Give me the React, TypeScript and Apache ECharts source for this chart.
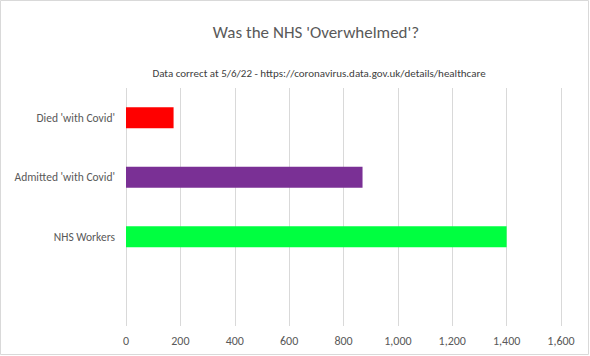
import React, { useEffect, useRef } from "react";
import * as echarts from "echarts";

const categories = ["Died 'with Covid'", "Admitted 'with Covid'", "NHS Workers", ""];
const values = [175, 870, 1400, null];
const barColors = ["#ff0000", "#7a3095", "#00ff40", "#ffffff"];
const titleText = "Was the NHS 'Overwhelmed'?";
const subtitleText = "Data correct at 5/6/22 - https://coronavirus.data.gov.uk/details/healthcare";

const FONT = "Carlito, Lato, 'Liberation Sans', sans-serif";

export default function App() {
  const ref = useRef<HTMLDivElement>(null);
  useEffect(() => {
    document.body.style.margin = "0";
    const chart = echarts.init(ref.current!, null, { renderer: "svg" });
    chart.setOption({
      animation: false,
      backgroundColor: "#ffffff",
      textStyle: { fontFamily: FONT },
      title: [
        {
          text: titleText,
          left: 311,
          top: 19,
          textAlign: "center",
          textStyle: { fontFamily: FONT, fontSize: 17, fontWeight: "normal", color: "#595959" },
        },
        {
          text: subtitleText,
          left: 314,
          top: 63,
          textAlign: "center",
          textStyle: { fontFamily: FONT, fontSize: 11, fontWeight: "normal", color: "#404040" },
        },
      ],
      graphic: [
        {
          type: "rect",
          shape: { x: 0.5, y: 0.5, width: 588, height: 354 },
          style: { fill: "none", stroke: "#d9d9d9", lineWidth: 1 },
          z: 100,
        },
      ],
      grid: { left: 126, right: 29, top: 88, bottom: 30, containLabel: false },
      xAxis: {
        type: "value",
        min: 0,
        max: 1600,
        interval: 200,
        axisLine: { show: false },
        axisTick: { show: false },
        splitLine: { show: true, lineStyle: { color: "#d9d9d9", width: 1 } },
        axisLabel: {
          margin: 9,
          color: "#595959",
          fontFamily: FONT,
          fontSize: 12,
          formatter: (v: number) => v.toLocaleString("en-US"),
        },
      },
      yAxis: {
        type: "category",
        inverse: true,
        data: categories,
        axisLine: { show: false },
        axisTick: { show: false },
        splitLine: { show: false },
        axisLabel: { margin: 11, color: "#595959", fontFamily: FONT, fontSize: 11.5 },
      },
      series: [
        {
          type: "bar",
          barCategoryGap: "65%",
          data: values.map((v, i) => ({ value: v, itemStyle: { color: barColors[i] } })),
        },
      ],
    });
    return () => chart.dispose();
  }, []);
  return <div ref={ref} style={{ position: "absolute", left: 0, top: 0, width: 590, height: 356 }} />;
}
